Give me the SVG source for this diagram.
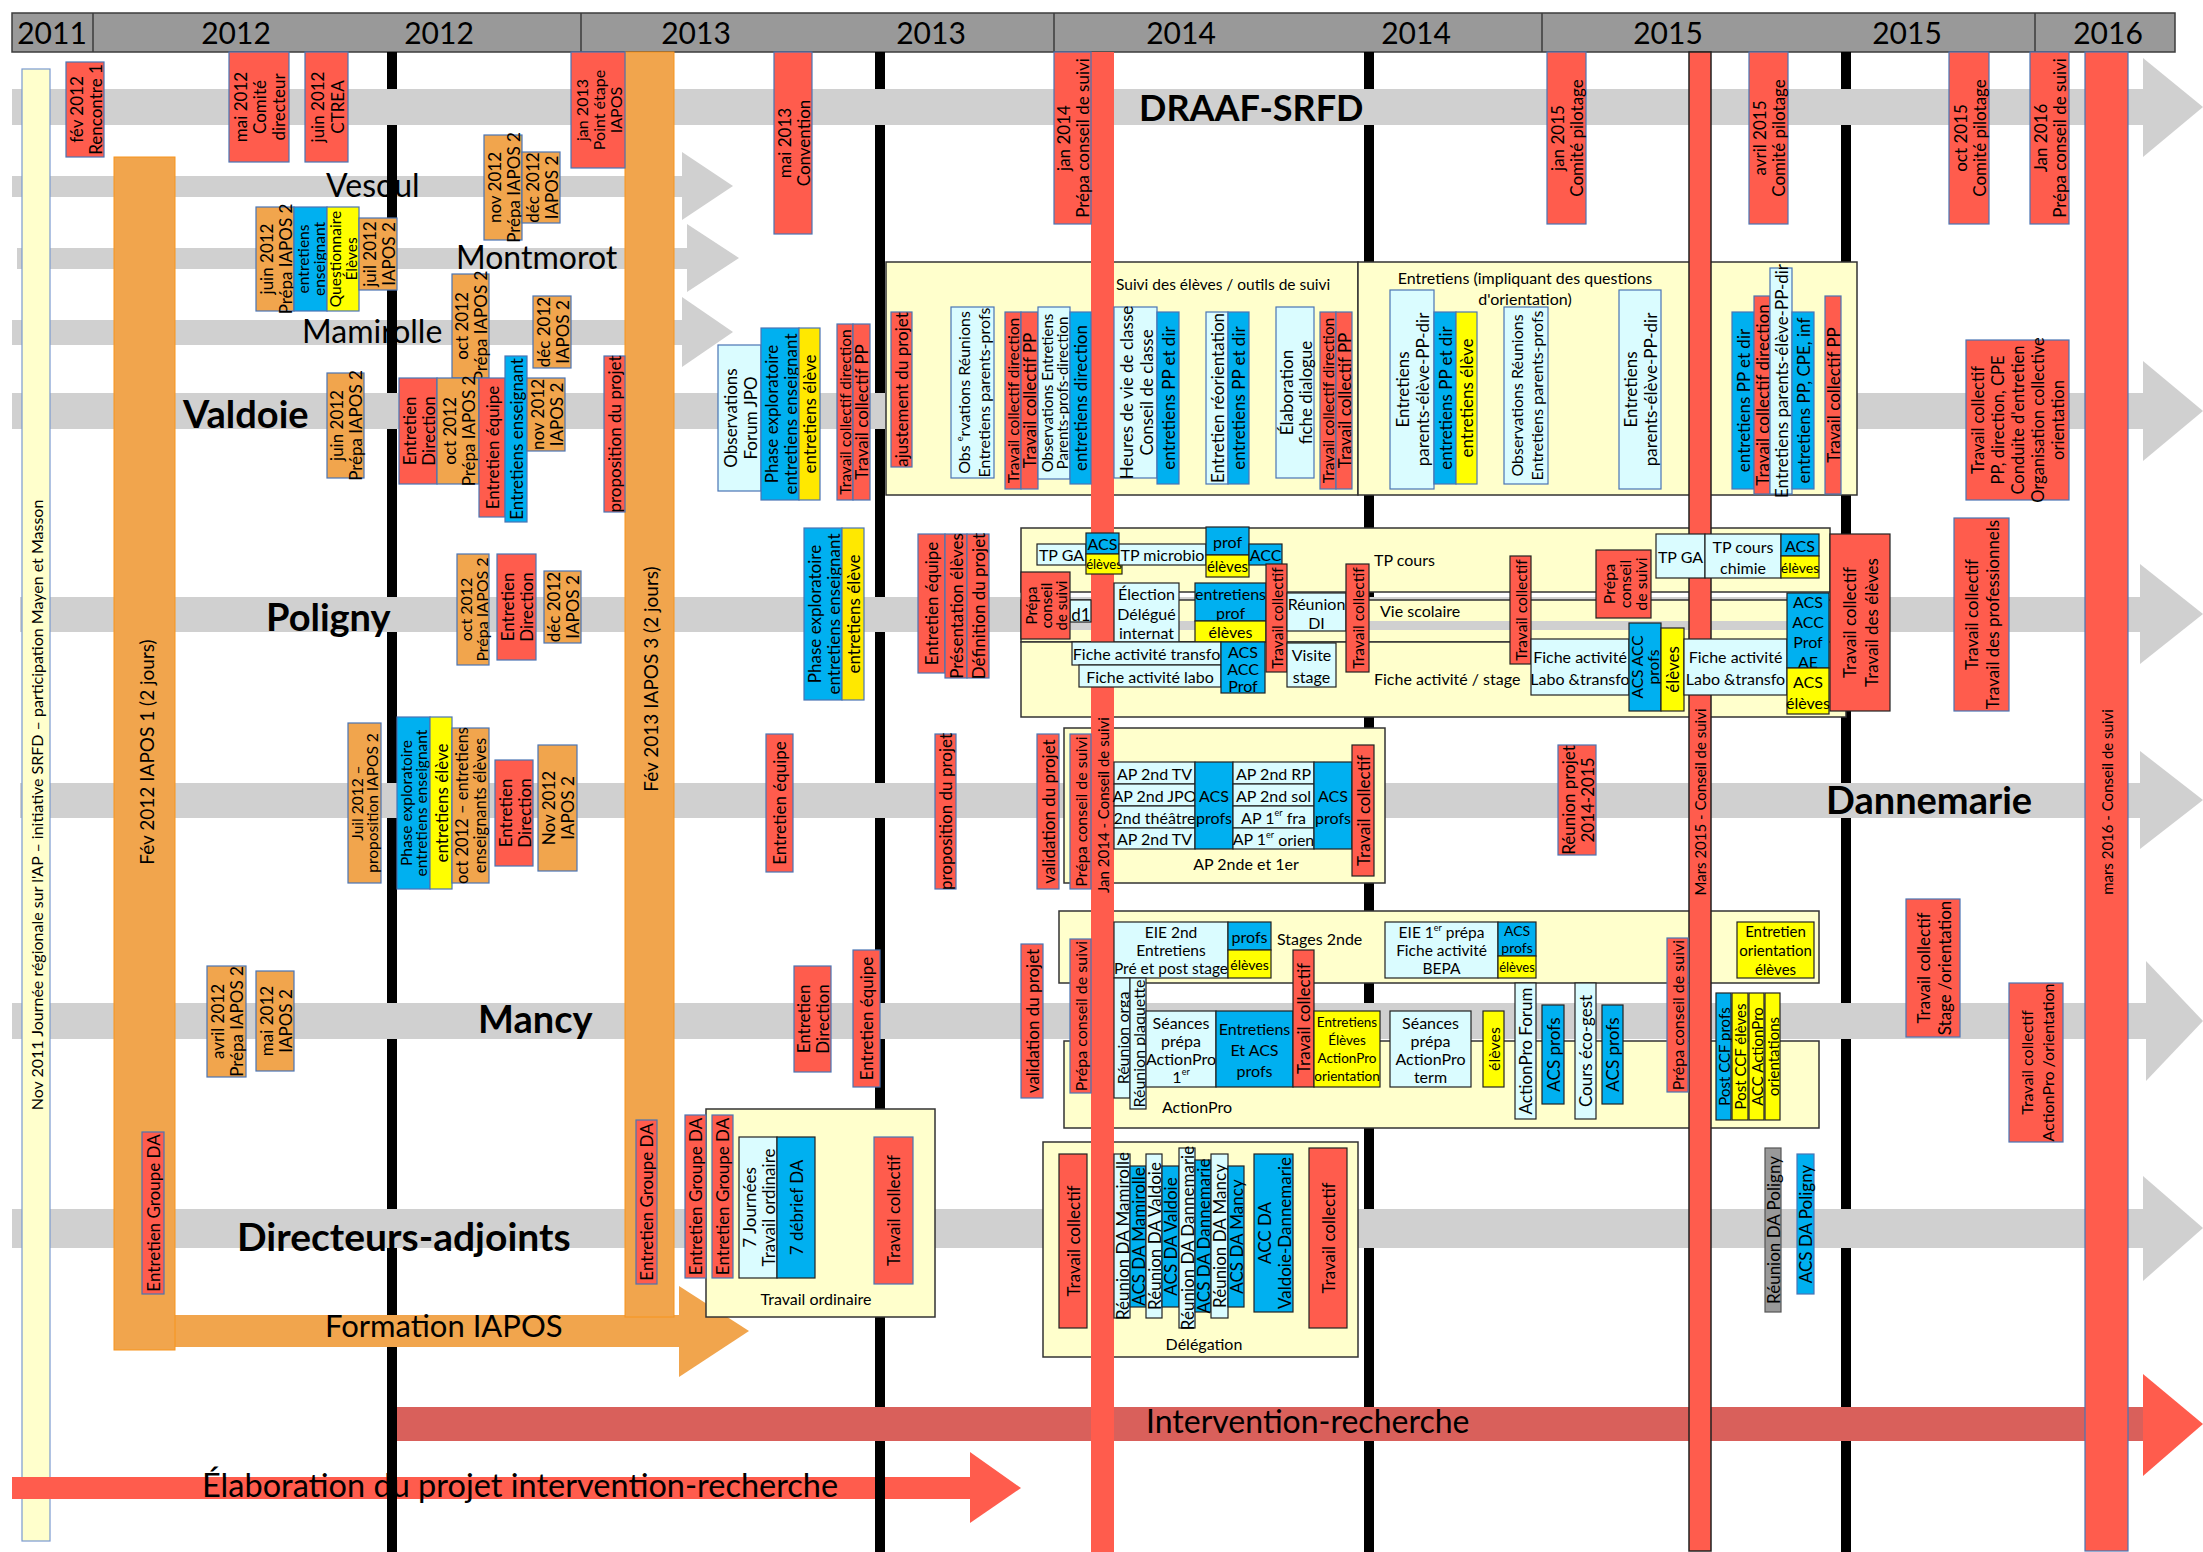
<svg xmlns="http://www.w3.org/2000/svg" width="2203" height="1552" viewBox="0 0 2203 1552">
<defs>
<style>
text{font-family:Lato,"Liberation Sans",sans-serif;fill:#000}
.hd{fill:#999;stroke:#3c3c3c;stroke-width:1.5}
.yr{font-size:30px;text-anchor:middle}
.ln{fill:#d0d0d0}
.ir{fill:#d9605b}
.rd{fill:#ff5c4d}
.ia{fill:#f1a54d;stroke:#f7941d;stroke-width:1}
.r{fill:#ff5c4d;stroke:#4a74b4;stroke-width:1.2}
.o{fill:#f1a54d;stroke:#4a74b4;stroke-width:1.2}
.c{fill:#00b0f0;stroke:#4a74b4;stroke-width:1.2}
.y{fill:#ffff00;stroke:#4a74b4;stroke-width:1.2}
.y2{fill:#ffe800;stroke:#4a74b4;stroke-width:1.2}
.l{fill:#dafcff;stroke:#4a74b4;stroke-width:1.2}
.g{fill:#999;stroke:#555;stroke-width:1.2}
.p{fill:#ffffcc;stroke:#333;stroke-width:1.5}
.dk rect{stroke:#222}
.t{font-size:17px}
.h{font-size:16px}
.t,.t tspan,.h,.h tspan{text-anchor:middle;dominant-baseline:central}
.lb{font-size:16px}
.L{font-size:32px}
.B{font-size:38px;font-weight:bold}
.big{font-size:32px}
.bar{font-size:15px;text-anchor:middle;dominant-baseline:central}
.ib{font-size:19px;text-anchor:middle;dominant-baseline:central}
</style>
</defs>
<rect width="2203" height="1552" fill="#fff"/>

<g id="header">
<rect class="hd" x="12" y="13" width="2163" height="39"/>
<path d="M93 13V52M581 13V52M1054 13V52M1542 13V52M2035 13V52" stroke="#3c3c3c" stroke-width="1.5"/>
<text class="yr" x="52" y="44">2011</text>
<text class="yr" x="236" y="44">2012</text>
<text class="yr" x="439" y="44">2012</text>
<text class="yr" x="696" y="44">2013</text>
<text class="yr" x="931" y="44">2013</text>
<text class="yr" x="1181" y="44">2014</text>
<text class="yr" x="1416" y="44">2014</text>
<text class="yr" x="1668" y="44">2015</text>
<text class="yr" x="1907" y="44">2015</text>
<text class="yr" x="2108" y="44">2016</text>
</g>

<g id="semesters" fill="#000">
<rect x="387" y="52" width="10" height="1500"/>
<rect x="875" y="52" width="10" height="1500"/>
<rect x="1364" y="52" width="10" height="1500"/>
<rect x="1841" y="52" width="10" height="1500"/>
</g>

<g id="lanes">
<rect class="ln" x="12" y="89" width="2131" height="36"/><polygon class="ln" points="2143,58 2203,107 2143,157"/>
<rect class="ln" x="12" y="393" width="2131" height="36"/><polygon class="ln" points="2143,361 2203,411 2143,461"/>
<rect class="ln" x="20" y="597" width="2120" height="35"/><polygon class="ln" points="2140,564 2203,614 2140,664"/>
<rect class="ln" x="20" y="783" width="2120" height="35"/><polygon class="ln" points="2140,751 2203,800 2140,849"/>
<rect class="ln" x="12" y="1003" width="2134" height="36"/><polygon class="ln" points="2146,961 2203,1021 2146,1081"/>
<rect class="ln" x="12" y="1209" width="2131" height="39"/><polygon class="ln" points="2143,1176 2203,1228 2143,1281"/>
<rect fill="#f1a54d" x="137" y="1315" width="542" height="32"/><polygon fill="#f1a54d" points="679,1286 749,1331 679,1377"/>
<rect class="ir" x="397" y="1407" width="1746" height="34"/><polygon class="rd" points="2143,1374 2203,1424 2143,1476"/>
<rect class="ln" x="12" y="176" width="670" height="21"/><polygon class="ln" points="682,152 733,186 682,220"/>
<rect class="ln" x="17" y="248" width="670" height="21"/><polygon class="ln" points="687,224 739,258 687,292"/>
<rect class="ln" x="12" y="320" width="670" height="25"/><polygon class="ln" points="682,297 733,332 682,367"/>
</g>

<g id="nov2011">
<rect x="22" y="69" width="28" height="1472" fill="#ffffcc" stroke="#7a9ad0" stroke-width="1.2"/>
<text class="bar" transform="translate(36 805) rotate(-90)" style="font-size:16px">Nov 2011 Journée régionale sur l'AP – initiative SRFD – participation Mayen et Masson</text>
</g>

<g id="elaboration">
<rect class="rd" x="12" y="1477" width="958" height="22"/><polygon class="rd" points="970,1452 1021,1488 970,1523"/>
</g>

<g id="lane-labels">
<text class="L" x="326" y="197">Vesoul</text>
<text class="L" x="456" y="269">Montmorot</text>
<text class="L" x="302" y="343">Mamirolle</text>
<text class="big" x="202" y="1497" style="font-size:32.5px">Élaboration du projet intervention-recherche</text>
</g>

<g fill="#000">
<rect x="387" y="170" width="10" height="32"/>
<rect x="387" y="244" width="10" height="30"/>
<rect x="387" y="316" width="10" height="33"/>
<rect x="387" y="1474" width="10" height="28"/>
<rect x="875" y="1474" width="10" height="28"/>
</g>

<g id="main-labels">
<text class="B" x="1139" y="121" style="font-size:36px">DRAAF-SRFD</text>
<text class="B" x="183" y="428">Valdoie</text>
<text class="B" x="266" y="631">Poligny</text>
<text class="B" x="1826" y="814">Dannemarie</text>
<text class="B" x="478" y="1033">Mancy</text>
<text class="B" x="237" y="1251" style="font-size:39px">Directeurs-adjoints</text>
<text class="big" x="325" y="1337" style="font-size:31px">Formation IAPOS</text>
<text class="big" x="1146" y="1433">Intervention-recherche</text>
</g>

<g id="containers">
<rect class="p" x="886" y="262" width="472" height="233"/>
<rect class="p" x="1358" y="262" width="499" height="233"/>
<rect class="p" x="1021" y="528" width="809" height="64"/>
<rect class="p" x="1021" y="600" width="825" height="42"/>
<rect class="ln" x="1022" y="621" width="823" height="9"/>
<rect class="p" x="1021" y="642" width="825" height="75"/>
<rect class="p" x="1064" y="728" width="321" height="155"/>
<rect class="p" x="1059" y="911" width="760" height="72"/>
<rect class="p" x="1064" y="1041" width="755" height="87"/>
<rect class="p" x="706" y="1109" width="229" height="208"/>
<rect class="p" x="1043" y="1142" width="315" height="215"/>
</g>

<g id="iapos1"><rect class="ia" x="114" y="157" width="61" height="1193"/><text class="ib" transform="translate(146 752) rotate(-90)">Fév 2012 IAPOS 1 (2 jours)</text></g>
<g id="iapos3"><rect class="ia" x="625" y="52" width="49" height="1265"/><text class="ib" transform="translate(650 679) rotate(-90)">Fév 2013 IAPOS 3 (2 jours)</text></g>

<g id="cs2014"><rect class="rd" x="1091" y="52" width="23" height="1500"/><text class="bar" transform="translate(1102.5 805) rotate(-90)">Jan 2014 - Conseil de suivi</text></g>
<g id="cs2015"><rect class="rd" x="1689" y="52" width="22" height="1499" stroke="#222" stroke-width="1.5"/><text class="bar" transform="translate(1700 802) rotate(-90)">Mars 2015 - Conseil de suivi</text></g>
<g id="cs2016"><rect class="r" x="2085" y="52" width="43" height="1499"/><text class="bar" transform="translate(2106.5 802) rotate(-90)">mars 2016 - Conseil de suivi</text></g>

<!-- DRAAF row -->
<g id="a1"><rect class="r" x="66" y="62" width="38" height="95"/><text class="t" transform="translate(85 109.5) rotate(-90)"><tspan x="0" y="-9.5">fév 2012</tspan><tspan x="0" y="9.5">Rencontre 1</tspan></text></g>
<g id="a2"><rect class="r" x="229" y="52" width="60" height="110"/><text class="t" transform="translate(259 107) rotate(-90)"><tspan x="0" y="-19">mai 2012</tspan><tspan x="0" y="0">Comité</tspan><tspan x="0" y="19">directeur</tspan></text></g>
<g id="a3"><rect class="r" x="305" y="52" width="43" height="110"/><text class="t" transform="translate(326.5 107) rotate(-90)"><tspan x="0" y="-10">juin 2012</tspan><tspan x="0" y="10">CTREA</tspan></text></g>
<g id="a4"><rect class="r" x="571" y="52" width="54" height="116"/><text class="t" transform="translate(598 110) rotate(-90)" style="font-size:16px"><tspan x="0" y="-17">jan 2013</tspan><tspan x="0" y="0">Point étape</tspan><tspan x="0" y="17">IAPOS</tspan></text></g>
<g id="a5"><rect class="r" x="774" y="52" width="38" height="182"/><text class="t" transform="translate(793 143) rotate(-90)"><tspan x="0" y="-9.5">mai 2013</tspan><tspan x="0" y="9.5">Convention</tspan></text></g>
<g id="a6"><rect class="r" x="1054" y="52" width="37" height="172"/><text class="t" transform="translate(1072.5 138) rotate(-90)"><tspan x="0" y="-9.5">jan 2014</tspan><tspan x="0" y="9.5">Prépa conseil de suivi</tspan></text></g>
<g id="a7"><rect class="r" x="1547" y="52" width="39" height="172"/><text class="t" transform="translate(1566.5 138) rotate(-90)"><tspan x="0" y="-9.5">jan 2015</tspan><tspan x="0" y="9.5">Comité pilotage</tspan></text></g>
<g id="a8"><rect class="r" x="1749" y="52" width="39" height="172"/><text class="t" transform="translate(1768.5 138) rotate(-90)"><tspan x="0" y="-9.5">avril 2015</tspan><tspan x="0" y="9.5">Comité pilotage</tspan></text></g>
<g id="a9"><rect class="r" x="1949" y="52" width="40" height="172"/><text class="t" transform="translate(1969 138) rotate(-90)"><tspan x="0" y="-9.5">oct 2015</tspan><tspan x="0" y="9.5">Comité pilotage</tspan></text></g>
<g id="a10"><rect class="r" x="2030" y="52" width="39" height="172"/><text class="t" transform="translate(2049.5 138) rotate(-90)"><tspan x="0" y="-9.5">Jan 2016</tspan><tspan x="0" y="9.5">Prépa conseil de suivi</tspan></text></g>

<!-- Vesoul / Montmorot / Mamirolle -->
<g id="b1"><rect class="o" x="484" y="135" width="38" height="105"/><text class="t" transform="translate(503 187.5) rotate(-90)"><tspan x="0" y="-9.5">nov 2012</tspan><tspan x="0" y="9.5">Prépa IAPOS 2</tspan></text></g>
<g id="b2"><rect class="o" x="522" y="152" width="38" height="71"/><text class="t" transform="translate(541 187.5) rotate(-90)"><tspan x="0" y="-9.5">déc 2012</tspan><tspan x="0" y="9.5">IAPOS 2</tspan></text></g>
<g id="c1"><rect class="o" x="256" y="207" width="38" height="104"/><text class="t" transform="translate(275 259) rotate(-90)"><tspan x="0" y="-9.5">juin 2012</tspan><tspan x="0" y="9.5">Prépa IAPOS 2</tspan></text></g>
<g id="c2"><rect class="c" x="294" y="207" width="33" height="104"/><text class="t" transform="translate(310.5 259) rotate(-90)" style="font-size:15.5px"><tspan x="0" y="-8">entretiens</tspan><tspan x="0" y="8">enseignant</tspan></text></g>
<g id="c3"><rect class="y" x="327" y="207" width="32" height="104"/><text class="t" transform="translate(343 259) rotate(-90)" style="font-size:15.5px"><tspan x="0" y="-8">Questionnaire</tspan><tspan x="0" y="8">Élèves</tspan></text></g>
<g id="c4"><rect class="o" x="359" y="218" width="38" height="72"/><text class="t" transform="translate(378 254) rotate(-90)"><tspan x="0" y="-9.5">juil 2012</tspan><tspan x="0" y="9.5">IAPOS 2</tspan></text></g>
<g id="d1"><rect class="o" x="452" y="274" width="37" height="104"/><text class="t" transform="translate(470.5 326) rotate(-90)"><tspan x="0" y="-9.5">oct 2012</tspan><tspan x="0" y="9.5">Prépa IAPOS 2</tspan></text></g>
<g id="d2"><rect class="o" x="533" y="296" width="38" height="72"/><text class="t" transform="translate(552 332) rotate(-90)"><tspan x="0" y="-9.5">déc 2012</tspan><tspan x="0" y="9.5">IAPOS 2</tspan></text></g>

<!-- Valdoie -->
<g id="e1"><rect class="o" x="327" y="373" width="37" height="105"/><text class="t" transform="translate(345.5 425.5) rotate(-90)"><tspan x="0" y="-9.5">juin 2012</tspan><tspan x="0" y="9.5">Prépa IAPOS 2</tspan></text></g>
<g id="e2"><rect class="r" x="399" y="378" width="38" height="106"/><text class="t" transform="translate(418 431) rotate(-90)"><tspan x="0" y="-9.5">Entretien</tspan><tspan x="0" y="9.5">Direction</tspan></text></g>
<g id="e3"><rect class="o" x="437" y="378" width="42" height="106"/><text class="t" transform="translate(458 431) rotate(-90)"><tspan x="0" y="-9.5">oct 2012</tspan><tspan x="0" y="9.5">Prépa IAPOS 2</tspan></text></g>
<g id="e4"><rect class="r" x="479" y="378" width="26" height="139"/><text class="t" transform="translate(492 447.5) rotate(-90)">Entretien équipe</text></g>
<g id="e5"><rect class="c" x="505" y="356" width="22" height="166"/><text class="t" transform="translate(516 439) rotate(-90)">Entretiens enseignant</text></g>
<g id="e6"><rect class="o" x="527" y="378" width="38" height="73"/><text class="t" transform="translate(546 414.5) rotate(-90)"><tspan x="0" y="-9.5">nov 2012</tspan><tspan x="0" y="9.5">IAPOS 2</tspan></text></g>
<g id="e7"><rect class="r" x="604" y="356" width="21" height="156"/><text class="t" transform="translate(614.5 434) rotate(-90)">proposition du projet</text></g>
<g id="e8"><rect class="l" x="718" y="345" width="43" height="146"/><text class="t" transform="translate(739.5 418) rotate(-90)"><tspan x="0" y="-10">Observations</tspan><tspan x="0" y="10">Forum JPO</tspan></text></g>
<g id="e9"><rect class="c" x="761" y="328" width="38" height="172"/><text class="t" transform="translate(780 414) rotate(-90)"><tspan x="0" y="-9.5">Phase exploratoire</tspan><tspan x="0" y="9.5">entretiens enseignant</tspan></text></g>
<g id="e10"><rect class="y2" x="799" y="328" width="21" height="172"/><text class="t" transform="translate(809.5 414) rotate(-90)">entretiens élève</text></g>
<g id="e11"><rect class="r" x="837" y="324" width="16" height="176"/><text class="t" transform="translate(845 412) rotate(-90)" style="font-size:15.5px">Travail collectif direction</text></g>
<g id="e12"><rect class="r" x="853" y="324" width="17" height="176"/><text class="t" transform="translate(861.5 412) rotate(-90)">Travail collectif PP</text></g>
<g id="e13"><rect class="r" x="891" y="312" width="21" height="155"/><text class="t" transform="translate(901.5 389.5) rotate(-90)">ajustement du projet</text></g>
<g id="e14"><rect class="l" x="951" y="307" width="43" height="171"/><text class="t" transform="translate(972.5 392.5) rotate(-90)" style="font-size:16px"><tspan x="0" y="-10">Obs <tspan font-size="9" dy="-4">e</tspan><tspan dy="4">rvations Réunions</tspan></tspan><tspan x="0" y="10">Entretiens parents-profs</tspan></text></g>
<g id="e15"><rect class="r" x="1005" y="312" width="16" height="177"/><text class="t" transform="translate(1013 400.5) rotate(-90)" style="font-size:15.5px">Travail collectif direction</text></g>
<g id="e16"><rect class="r" x="1021" y="312" width="17" height="177"/><text class="t" transform="translate(1029.5 400.5) rotate(-90)">Travail collectif PP</text></g>
<g id="e17"><rect class="l" x="1038" y="307" width="32" height="172"/><text class="t" transform="translate(1054 393) rotate(-90)" style="font-size:15px"><tspan x="0" y="-7.5">Observations Entretiens</tspan><tspan x="0" y="7.5">Parents-profs-direction</tspan></text></g>
<g id="e18"><rect class="c" x="1070" y="312" width="21" height="172"/><text class="t" transform="translate(1080.5 398) rotate(-90)">entretiens direction</text></g>
<g id="e19"><rect class="l" x="1114" y="307" width="43" height="171"/><text class="t" transform="translate(1135.5 392.5) rotate(-90)"><tspan x="0" y="-10">Heures de vie de classe</tspan><tspan x="0" y="10">Conseil de classe</tspan></text></g>
<g id="e20"><rect class="c" x="1157" y="312" width="22" height="172"/><text class="t" transform="translate(1168 398) rotate(-90)">entretiens PP et dir</text></g>
<g id="e21"><rect class="l" x="1206" y="312" width="22" height="172"/><text class="t" transform="translate(1217 398) rotate(-90)">Entretien réorientation</text></g>
<g id="e22"><rect class="c" x="1228" y="312" width="21" height="172"/><text class="t" transform="translate(1238.5 398) rotate(-90)">entretiens PP et dir</text></g>
<g id="e23"><rect class="l" x="1276" y="307" width="38" height="171"/><text class="t" transform="translate(1295 392.5) rotate(-90)"><tspan x="0" y="-9.5">Élaboration</tspan><tspan x="0" y="9.5">fiche dialogue</tspan></text></g>
<g id="e24"><rect class="r" x="1320" y="312" width="16" height="177"/><text class="t" transform="translate(1328 400.5) rotate(-90)" style="font-size:15.5px">Travail collectif direction</text></g>
<g id="e25"><rect class="r" x="1336" y="312" width="16" height="177"/><text class="t" transform="translate(1344 400.5) rotate(-90)">Travail collectif PP</text></g>
<g id="e26"><rect class="l" x="1390" y="290" width="44" height="199"/><text class="t" transform="translate(1412 389.5) rotate(-90)"><tspan x="0" y="-10">Entretiens</tspan><tspan x="0" y="10">parents-élève-PP-dir</tspan></text></g>
<g id="e27"><rect class="c" x="1434" y="312" width="22" height="172"/><text class="t" transform="translate(1445 398) rotate(-90)">entretiens PP et dir</text></g>
<g id="e28"><rect class="y" x="1456" y="312" width="21" height="172"/><text class="t" transform="translate(1466.5 398) rotate(-90)">entretiens élève</text></g>
<g id="e29"><rect class="l" x="1504" y="307" width="44" height="177"/><text class="t" transform="translate(1526 395.5) rotate(-90)" style="font-size:16px"><tspan x="0" y="-10">Observations Réunions</tspan><tspan x="0" y="10">Entretiens parents-profs</tspan></text></g>
<g id="e30"><rect class="l" x="1619" y="290" width="42" height="199"/><text class="t" transform="translate(1640 389.5) rotate(-90)"><tspan x="0" y="-10">Entretiens</tspan><tspan x="0" y="10">parents-élève-PP-dir</tspan></text></g>
<g id="e31"><rect class="c" x="1732" y="312" width="22" height="177"/><text class="t" transform="translate(1743 400.5) rotate(-90)">entretiens PP et dir</text></g>
<g id="e32"><rect class="r" x="1754" y="296" width="16" height="198"/><text class="t" transform="translate(1762 395) rotate(-90)">Travail collectif direction</text></g>
<g id="e33"><rect class="l" x="1770" y="268" width="22" height="226"/><text class="t" transform="translate(1781 381) rotate(-90)">Entretiens parents-élève-PP-dir</text></g>
<g id="e34"><rect class="c" x="1792" y="312" width="22" height="177"/><text class="t" transform="translate(1803 400.5) rotate(-90)">entretiens PP, CPE, inf</text></g>
<g id="e35"><rect class="r" x="1825" y="296" width="16" height="198"/><text class="t" transform="translate(1833 395) rotate(-90)">Travail collectif PP</text></g>
<g id="e36"><rect class="r" x="1966" y="340" width="103" height="160"/><text class="t" transform="translate(2017.5 420) rotate(-90)" style="font-size:16.5px"><tspan x="0" y="-40">Travail collectif</tspan><tspan x="0" y="-20">PP, direction, CPE</tspan><tspan x="0" y="0">Conduite d'entretien</tspan><tspan x="0" y="20">Organisation collective</tspan><tspan x="0" y="40">orientation</tspan></text></g>

<!-- Poligny -->
<g id="f1"><rect class="o" x="457" y="554" width="32" height="111"/><text class="t" transform="translate(473 609.5) rotate(-90)" style="font-size:16px"><tspan x="0" y="-8">oct 2012</tspan><tspan x="0" y="8">Prépa IAPOS 2</tspan></text></g>
<g id="f2"><rect class="r" x="497" y="554" width="39" height="106"/><text class="t" transform="translate(516.5 607) rotate(-90)"><tspan x="0" y="-9.5">Entretien</tspan><tspan x="0" y="9.5">Direction</tspan></text></g>
<g id="f3"><rect class="o" x="544" y="571" width="37" height="72"/><text class="t" transform="translate(562.5 607) rotate(-90)"><tspan x="0" y="-9.5">déc 2012</tspan><tspan x="0" y="9.5">IAPOS 2</tspan></text></g>
<g id="f4"><rect class="c" x="804" y="528" width="38" height="172"/><text class="t" transform="translate(823 614) rotate(-90)"><tspan x="0" y="-9.5">Phase exploratoire</tspan><tspan x="0" y="9.5">entretiens enseignant</tspan></text></g>
<g id="f5"><rect class="y2" x="842" y="528" width="22" height="172"/><text class="t" transform="translate(853 614) rotate(-90)">entretiens élève</text></g>
<g id="f6"><rect class="r" x="918" y="534" width="27" height="139"/><text class="t" transform="translate(931.5 603.5) rotate(-90)">Entretien équipe</text></g>
<g id="f7"><rect class="r" x="945" y="534" width="22" height="144"/><text class="t" transform="translate(956 606) rotate(-90)">Présentation élèves</text></g>
<g id="f8"><rect class="r" x="967" y="534" width="22" height="144"/><text class="t" transform="translate(978 606) rotate(-90)">Définition du projet</text></g>

<g class="dk">
<g id="g1"><rect class="l" x="1037" y="544" width="49" height="21"/><text class="h" x="1061.5" y="554.5">TP GA</text></g>
<g id="g2"><rect class="c" x="1086" y="533" width="33" height="21"/><text class="h" x="1102.5" y="543.5">ACS</text></g>
<g id="g3"><rect class="y" x="1086" y="554" width="36" height="20"/><text class="h" x="1104" y="564" style="font-size:13px">élèves</text></g>
<g id="g4"><rect class="l" x="1119" y="544" width="87" height="21"/><text class="h" x="1162.5" y="554.5">TP microbio</text></g>
<g id="g5"><rect class="c" x="1206" y="527" width="43" height="28"/><text class="h" x="1227.5" y="541">prof</text></g>
<g id="g6"><rect class="y" x="1206" y="555" width="43" height="22"/><text class="h" x="1227.5" y="566" style="font-size:15px">élèves</text></g>
<g id="g7"><rect class="c" x="1249" y="544" width="33" height="21"/><text class="h" x="1265.5" y="554.5">ACC</text></g>
<g id="g8b"><rect class="l" x="1070" y="600" width="21" height="22"/><text class="h" x="1081" y="614" style="font-size:17px">d1</text></g>
<g id="g8"><rect class="r" x="1021" y="572" width="49" height="67"/><text class="t" transform="translate(1045.5 605.5) rotate(-90)" style="font-size:15px"><tspan x="0" y="-15">Prépa</tspan><tspan x="0" y="0">conseil</tspan><tspan x="0" y="15">de suivi</tspan></text></g>
<g id="g9"><rect class="l" x="1114" y="583" width="65" height="59"/><text class="h"><tspan x="1146.5" y="593">Élection</tspan><tspan x="1146.5" y="612.5">Délégué</tspan><tspan x="1146.5" y="632">internat</tspan></text></g>
<g id="g10"><rect class="c" x="1195" y="583" width="71" height="38"/><text class="h"><tspan x="1230.5" y="592.5">entretiens</tspan><tspan x="1230.5" y="611.5">prof</tspan></text></g>
<g id="g11"><rect class="y" x="1195" y="621" width="71" height="21"/><text class="h" x="1230.5" y="631.5">élèves</text></g>
<g id="g12"><rect class="r" x="1266" y="564" width="21" height="108"/><text class="t" transform="translate(1276.5 618) rotate(-90)" style="font-size:15.5px">Travail collectif</text></g>
<g id="g13"><rect class="l" x="1287" y="593" width="59" height="38"/><text class="h"><tspan x="1316.5" y="602.5">Réunion</tspan><tspan x="1316.5" y="621.5">DI</tspan></text></g>
<g id="g14"><rect class="r" x="1346" y="564" width="23" height="108"/><text class="t" transform="translate(1357.5 618) rotate(-90)" style="font-size:15.5px">Travail collectif</text></g>
<g id="g15"><rect class="l" x="1072" y="642" width="149" height="23"/><text class="h" x="1146.5" y="653.5">Fiche activité transfo</text></g>
<g id="g16"><rect class="l" x="1079" y="665" width="142" height="22"/><text class="h" x="1150" y="676">Fiche activité labo</text></g>
<g id="g17"><rect class="c" x="1221" y="642" width="44" height="51"/><text class="h"><tspan x="1243" y="650.5">ACS</tspan><tspan x="1243" y="667.5">ACC</tspan><tspan x="1243" y="684.5">Prof</tspan></text></g>
<g id="g18"><rect class="l" x="1287" y="643" width="49" height="44"/><text class="h"><tspan x="1311.5" y="654">Visite</tspan><tspan x="1311.5" y="676">stage</tspan></text></g>
<g id="g19"><rect class="r" x="1510" y="556" width="21" height="108"/><text class="t" transform="translate(1520.5 610) rotate(-90)" style="font-size:15.5px">Travail collectif</text></g>
<g id="g20"><rect class="r" x="1596" y="550" width="55" height="68"/><text class="t" transform="translate(1623.5 584) rotate(-90)" style="font-size:16px"><tspan x="0" y="-16">Prépa</tspan><tspan x="0" y="0">conseil</tspan><tspan x="0" y="16">de suivi</tspan></text></g>
<g id="g21"><rect class="l" x="1531" y="639" width="98" height="56"/><text class="h"><tspan x="1580" y="656">Fiche activité</tspan><tspan x="1580" y="678">Labo &amp;transfo</tspan></text></g>
<g id="g22"><rect class="c" x="1629" y="623" width="32" height="88"/><text class="t" transform="translate(1645 667) rotate(-90)" style="font-size:15.5px"><tspan x="0" y="-8">ACS ACC</tspan><tspan x="0" y="8">profs</tspan></text></g>
<g id="g23"><rect class="y" x="1661" y="628" width="23" height="83"/><text class="t" transform="translate(1672.5 669.5) rotate(-90)">élèves</text></g>
<g id="g24"><rect class="l" x="1684" y="639" width="103" height="56"/><text class="h"><tspan x="1735.5" y="656">Fiche activité</tspan><tspan x="1735.5" y="678">Labo &amp;transfo</tspan></text></g>
<g id="g25"><rect class="c" x="1787" y="593" width="42" height="75"/><text class="h"><tspan x="1808" y="601">ACS</tspan><tspan x="1808" y="621">ACC</tspan><tspan x="1808" y="641">Prof</tspan><tspan x="1808" y="661">AE</tspan></text></g>
<g id="g26"><rect class="y" x="1787" y="668" width="42" height="46"/><text class="h"><tspan x="1808" y="681">ACS</tspan><tspan x="1808" y="702">élèves</tspan></text></g>
<g id="g27"><rect class="l" x="1656" y="534" width="49" height="44"/><text class="h" x="1680.5" y="556">TP GA</text></g>
<g id="g28"><rect class="l" x="1705" y="534" width="76" height="44"/><text class="h"><tspan x="1743" y="546">TP cours</tspan><tspan x="1743" y="567">chimie</tspan></text></g>
<g id="g29"><rect class="c" x="1781" y="534" width="38" height="22"/><text class="h" x="1800" y="545">ACS</text></g>
<g id="g30"><rect class="y" x="1781" y="556" width="38" height="22"/><text class="h" x="1800" y="567" style="font-size:14px">élèves</text></g>
<g id="g31"><rect class="r" x="1830" y="534" width="60" height="177"/><text class="t" transform="translate(1860 622.5) rotate(-90)"><tspan x="0" y="-11">Travail collectif</tspan><tspan x="0" y="11">Travail des élèves</tspan></text></g>
</g>
<g id="g32"><rect class="r" x="1954" y="518" width="55" height="193"/><text class="t" transform="translate(1981.5 614.5) rotate(-90)"><tspan x="0" y="-10.5">Travail collectif</tspan><tspan x="0" y="10.5">Travail des professionnels</tspan></text></g>

<!-- Dannemarie -->
<g id="h1"><rect class="o" x="348" y="723" width="33" height="160"/><text class="t" transform="translate(364.5 803) rotate(-90)" style="font-size:15.5px"><tspan x="0" y="-7.5">Juil 2012 –</tspan><tspan x="0" y="7.5">proposition IAPOS 2</tspan></text></g>
<g id="h2"><rect class="c" x="397" y="717" width="33" height="172"/><text class="t" transform="translate(413.5 803) rotate(-90)" style="font-size:15.5px"><tspan x="0" y="-7.5">Phase exploratoire</tspan><tspan x="0" y="7.5">entretiens enseignant</tspan></text></g>
<g id="h3"><rect class="y" x="430" y="717" width="22" height="172"/><text class="t" transform="translate(441 803) rotate(-90)">entretiens élève</text></g>
<g id="h4"><rect class="o" x="452" y="728" width="37" height="155"/><text class="t" transform="translate(470.5 805.5) rotate(-90)" style="font-size:16.5px"><tspan x="0" y="-9">oct 2012 – entretiens</tspan><tspan x="0" y="9">enseignants élèves</tspan></text></g>
<g id="h5"><rect class="r" x="495" y="760" width="38" height="106"/><text class="t" transform="translate(514 813) rotate(-90)"><tspan x="0" y="-9.5">Entretien</tspan><tspan x="0" y="9.5">Direction</tspan></text></g>
<g id="h6"><rect class="o" x="538" y="745" width="39" height="126"/><text class="t" transform="translate(557.5 808) rotate(-90)"><tspan x="0" y="-9.5">Nov 2012</tspan><tspan x="0" y="9.5">IAPOS 2</tspan></text></g>
<g id="h7"><rect class="r" x="766" y="734" width="27" height="138"/><text class="t" transform="translate(779.5 803) rotate(-90)">Entretien équipe</text></g>
<g id="h8"><rect class="r" x="935" y="734" width="21" height="155"/><text class="t" transform="translate(945.5 811.5) rotate(-90)">proposition du projet</text></g>
<g id="h9"><rect class="r" x="1037" y="734" width="22" height="155"/><text class="t" transform="translate(1048 811.5) rotate(-90)">validation du projet</text></g>
<g id="h10"><rect class="r" x="1070" y="734" width="21" height="155"/><text class="t" transform="translate(1080.5 811.5) rotate(-90)" style="font-size:16px">Prépa conseil de suivi</text></g>
<g class="dk">
<g id="h11"><rect class="l" x="1114" y="762" width="81" height="22"/><text class="h" x="1154.5" y="773">AP 2nd TV</text></g>
<g id="h12"><rect class="l" x="1114" y="784" width="81" height="22"/><text class="h" x="1154.5" y="795">AP 2nd JPO</text></g>
<g id="h13"><rect class="l" x="1114" y="806" width="81" height="22"/><text class="h" x="1154.5" y="817">2nd théâtre</text></g>
<g id="h14"><rect class="l" x="1114" y="828" width="81" height="21"/><text class="h" x="1154.5" y="838.5">AP 2nd TV</text></g>
<g id="h15"><rect class="c" x="1195" y="762" width="38" height="87"/><text class="h"><tspan x="1214" y="795">ACS</tspan><tspan x="1214" y="817">profs</tspan></text></g>
<g id="h16"><rect class="l" x="1233" y="762" width="81" height="22"/><text class="h" x="1273.5" y="773">AP 2nd RP</text></g>
<g id="h17"><rect class="l" x="1233" y="784" width="81" height="22"/><text class="h" x="1273.5" y="795">AP 2nd sol</text></g>
<g id="h18"><rect class="l" x="1233" y="806" width="81" height="22"/><text class="h" x="1273.5" y="817">AP 1<tspan font-size="9" dy="-5">er</tspan><tspan dy="5"> fra</tspan></text></g>
<g id="h19"><rect class="l" x="1233" y="828" width="81" height="21"/><text class="h" x="1273.5" y="838.5">AP 1<tspan font-size="9" dy="-5">er</tspan><tspan dy="5"> orien</tspan></text></g>
<g id="h20"><rect class="c" x="1314" y="762" width="38" height="87"/><text class="h"><tspan x="1333" y="795">ACS</tspan><tspan x="1333" y="817">profs</tspan></text></g>
<g id="h21"><rect class="r" x="1352" y="745" width="22" height="131"/><text class="t" transform="translate(1363 810.5) rotate(-90)">Travail collectif</text></g>
</g>
<g id="h22"><rect class="r" x="1558" y="745" width="38" height="110"/><text class="t" transform="translate(1577 800) rotate(-90)"><tspan x="0" y="-9.5">Réunion projet</tspan><tspan x="0" y="9.5">2014-2015</tspan></text></g>

<!-- Mancy -->
<g id="i1"><rect class="o" x="207" y="966" width="39" height="111"/><text class="t" transform="translate(226.5 1021.5) rotate(-90)"><tspan x="0" y="-9.5">avril 2012</tspan><tspan x="0" y="9.5">Prépa IAPOS 2</tspan></text></g>
<g id="i2"><rect class="o" x="256" y="971" width="38" height="100"/><text class="t" transform="translate(275 1021) rotate(-90)"><tspan x="0" y="-9.5">mai 2012</tspan><tspan x="0" y="9.5">IAPOS 2</tspan></text></g>
<g id="i3"><rect class="r" x="794" y="966" width="37" height="106"/><text class="t" transform="translate(812.5 1019) rotate(-90)"><tspan x="0" y="-9.5">Entretien</tspan><tspan x="0" y="9.5">Direction</tspan></text></g>
<g id="i4"><rect class="r" x="853" y="950" width="27" height="137"/><text class="t" transform="translate(866.5 1018.5) rotate(-90)">Entretien équipe</text></g>
<g id="i5"><rect class="r" x="1021" y="944" width="22" height="154"/><text class="t" transform="translate(1032 1021) rotate(-90)">validation du projet</text></g>
<g id="i6"><rect class="r" x="1070" y="939" width="21" height="154"/><text class="t" transform="translate(1080.5 1016) rotate(-90)" style="font-size:16px">Prépa conseil de suivi</text></g>
<g class="dk">
<g id="i7"><rect class="l" x="1114" y="922" width="114" height="56"/><text class="h" style="font-size:15.5px"><tspan x="1171" y="932">EIE 2nd</tspan><tspan x="1171" y="950">Entretiens</tspan><tspan x="1171" y="968">Pré et post stage</tspan></text></g>
<g id="i8"><rect class="c" x="1228" y="922" width="43" height="28"/><text class="h" x="1249.5" y="936">profs</text></g>
<g id="i9"><rect class="y" x="1228" y="950" width="43" height="28"/><text class="h" x="1249.5" y="964" style="font-size:14px">élèves</text></g>
<g id="i10"><rect class="l" x="1385" y="922" width="113" height="56"/><text class="h" style="font-size:15.5px"><tspan x="1441.5" y="932">EIE 1<tspan font-size="9" dy="-5">er</tspan><tspan dy="5"> prépa</tspan></tspan><tspan x="1441.5" y="950">Fiche activité</tspan><tspan x="1441.5" y="968">BEPA</tspan></text></g>
<g id="i11"><rect class="c" x="1498" y="922" width="38" height="34"/><text class="h" style="font-size:14px"><tspan x="1517" y="930">ACS</tspan><tspan x="1517" y="947">profs</tspan></text></g>
<g id="i12"><rect class="y" x="1498" y="956" width="38" height="22"/><text class="h" x="1517" y="967" style="font-size:13px">élèves</text></g>
<g id="i13"><rect class="y" x="1737" y="922" width="77" height="56"/><text class="h" style="font-size:15px"><tspan x="1775.5" y="931">Entretien</tspan><tspan x="1775.5" y="950">orientation</tspan><tspan x="1775.5" y="969">élèves</tspan></text></g>
<g id="i15"><rect class="l" x="1114" y="978" width="16" height="120"/><text class="t" transform="translate(1122 1038) rotate(-90)" style="font-size:16px">Réunion orga</text></g>
<g id="i16"><rect class="l" x="1130" y="978" width="16" height="131"/><text class="t" transform="translate(1138 1043.5) rotate(-90)" style="font-size:16px">Réunion plaquette</text></g>
<g id="i17"><rect class="l" x="1146" y="1011" width="70" height="76"/><text class="h"><tspan x="1181" y="1022">Séances</tspan><tspan x="1181" y="1040">prépa</tspan><tspan x="1181" y="1058">ActionPro</tspan><tspan x="1181" y="1076">1<tspan font-size="9" dy="-5">er</tspan></tspan></text></g>
<g id="i18"><rect class="c" x="1216" y="1011" width="77" height="76"/><text class="h"><tspan x="1254.5" y="1028">Entretiens</tspan><tspan x="1254.5" y="1049">Et ACS</tspan><tspan x="1254.5" y="1070">profs</tspan></text></g>
<g id="i19"><rect class="r" x="1293" y="950" width="21" height="137"/><text class="t" transform="translate(1303.5 1018.5) rotate(-90)">Travail collectif</text></g>
<g id="i20"><rect class="y" x="1314" y="1011" width="66" height="76"/><text class="h" style="font-size:13.5px"><tspan x="1347" y="1022">Entretiens</tspan><tspan x="1347" y="1040">Élèves</tspan><tspan x="1347" y="1058">ActionPro</tspan><tspan x="1347" y="1076">orientation</tspan></text></g>
<g id="i21"><rect class="l" x="1390" y="1011" width="81" height="76"/><text class="h"><tspan x="1430.5" y="1022">Séances</tspan><tspan x="1430.5" y="1040">prépa</tspan><tspan x="1430.5" y="1058">ActionPro</tspan><tspan x="1430.5" y="1076">term</tspan></text></g>
<g id="i22"><rect class="y" x="1483" y="1011" width="21" height="76"/><text class="t" transform="translate(1493.5 1049) rotate(-90)" style="font-size:16px">élèves</text></g>
<g id="i23"><rect class="l" x="1515" y="983" width="21" height="136"/><text class="t" transform="translate(1525.5 1051) rotate(-90)">ActionPro Forum</text></g>
<g id="i24"><rect class="c" x="1542" y="1005" width="22" height="99"/><text class="t" transform="translate(1553 1054.5) rotate(-90)">ACS profs</text></g>
<g id="i25"><rect class="l" x="1575" y="983" width="21" height="136"/><text class="t" transform="translate(1585.5 1051) rotate(-90)">Cours éco-gest</text></g>
<g id="i26"><rect class="c" x="1602" y="1005" width="21" height="99"/><text class="t" transform="translate(1612.5 1054.5) rotate(-90)">ACS profs</text></g>
<g id="i27"><rect class="c" x="1716" y="993" width="15" height="127"/><text class="t" transform="translate(1723.5 1056.5) rotate(-90)" style="font-size:15px">Post CCF profs</text></g>
<g id="i28"><rect class="y" x="1732" y="993" width="16" height="127"/><text class="t" transform="translate(1740 1056.5) rotate(-90)" style="font-size:15px">Post CCF élèves</text></g>
<g id="i29"><rect class="y" x="1749" y="993" width="15" height="127"/><text class="t" transform="translate(1756.5 1056.5) rotate(-90)" style="font-size:15px">ACC ActionPro</text></g>
<g id="i30"><rect class="y" x="1765" y="993" width="15" height="127"/><text class="t" transform="translate(1772.5 1056.5) rotate(-90)" style="font-size:15px">orientations</text></g>
</g>
<g id="i14"><rect class="r" x="1667" y="938" width="21" height="154"/><text class="t" transform="translate(1677.5 1015) rotate(-90)" style="font-size:16px">Prépa conseil de suivi</text></g>
<g id="i31"><rect class="r" x="1906" y="899" width="54" height="138"/><text class="t" transform="translate(1933 968) rotate(-90)"><tspan x="0" y="-10.5">Travail collectif</tspan><tspan x="0" y="10.5">Stage /orientation</tspan></text></g>
<g id="i32"><rect class="r" x="2009" y="983" width="54" height="159"/><text class="t" transform="translate(2036 1062.5) rotate(-90)" style="font-size:16px"><tspan x="0" y="-10.5">Travail collectif</tspan><tspan x="0" y="10.5">ActionPro /orientation</tspan></text></g>

<!-- Directeurs-adjoints -->
<g id="j1"><rect class="r" x="142" y="1132" width="22" height="162"/><text class="t" transform="translate(153 1213) rotate(-90)">Entretien Groupe DA</text></g>
<g id="j2"><rect class="r" x="636" y="1120" width="21" height="164"/><text class="t" transform="translate(646.5 1202) rotate(-90)">Entretien Groupe DA</text></g>
<g id="j3"><rect class="r" x="685" y="1115" width="21" height="163"/><text class="t" transform="translate(695.5 1196.5) rotate(-90)">Entretien Groupe DA</text></g>
<g id="j4"><rect class="r" x="712" y="1115" width="21" height="163"/><text class="t" transform="translate(722.5 1196.5) rotate(-90)">Entretien Groupe DA</text></g>
<g class="dk">
<g id="j5"><rect class="l" x="739" y="1137" width="38" height="141"/><text class="t" transform="translate(758 1207.5) rotate(-90)"><tspan x="0" y="-9.5">7 Journées</tspan><tspan x="0" y="9.5">Travail ordinaire</tspan></text></g>
<g id="j6"><rect class="c" x="777" y="1137" width="38" height="141"/><text class="t" transform="translate(796 1207.5) rotate(-90)">7 débrief DA</text></g>
</g>
<g id="j7"><rect class="r" x="874" y="1137" width="39" height="147"/><text class="t" transform="translate(893.5 1210.5) rotate(-90)">Travail collectif</text></g>
<g class="dk">
<g id="k1"><rect class="r" x="1059" y="1154" width="28" height="174"/><text class="t" transform="translate(1073 1241) rotate(-90)">Travail collectif</text></g>
<g id="k2"><rect class="l" x="1114" y="1154" width="16" height="164"/><text class="t" transform="translate(1122 1236) rotate(-90)">Réunion DA Mamirolle</text></g>
<g id="k3"><rect class="c" x="1130" y="1166" width="16" height="141"/><text class="t" transform="translate(1138 1236.5) rotate(-90)">ACS DA Mamirolle</text></g>
<g id="k4"><rect class="l" x="1146" y="1154" width="16" height="164"/><text class="t" transform="translate(1154 1236) rotate(-90)">Réunion DA Valdoie</text></g>
<g id="k5"><rect class="c" x="1162" y="1166" width="17" height="141"/><text class="t" transform="translate(1170.5 1236.5) rotate(-90)">ACS DA Valdoie</text></g>
<g id="k6"><rect class="l" x="1179" y="1148" width="16" height="180"/><text class="t" transform="translate(1187 1238) rotate(-90)">Réunion DA Dannemarie</text></g>
<g id="k7"><rect class="c" x="1195" y="1160" width="16" height="152"/><text class="t" transform="translate(1203 1236) rotate(-90)">ACS DA Dannemarie</text></g>
<g id="k8"><rect class="l" x="1211" y="1154" width="17" height="164"/><text class="t" transform="translate(1219.5 1236) rotate(-90)">Réunion DA Mancy</text></g>
<g id="k9"><rect class="c" x="1228" y="1166" width="16" height="141"/><text class="t" transform="translate(1236 1236.5) rotate(-90)">ACS DA Mancy</text></g>
<g id="k10"><rect class="c" x="1254" y="1154" width="39" height="158"/><text class="t" transform="translate(1273.5 1233) rotate(-90)"><tspan x="0" y="-10">ACC DA</tspan><tspan x="0" y="10">Valdoie-Dannemarie</tspan></text></g>
<g id="k11"><rect class="r" x="1309" y="1148" width="38" height="180"/><text class="t" transform="translate(1328 1238) rotate(-90)">Travail collectif</text></g>
</g>
<g id="l1"><rect class="g" x="1765" y="1148" width="16" height="164"/><text class="t" transform="translate(1773 1230) rotate(-90)">Réunion DA Poligny</text></g>
<g id="l2"><rect class="c" x="1797" y="1154" width="17" height="140"/><text class="t" transform="translate(1805.5 1224) rotate(-90)">ACS DA Poligny</text></g>

<g id="container-labels">
<text class="lb" x="1116" y="290" style="font-size:15.5px">Suivi des élèves / outils de suivi</text>
<text class="lb" x="1525" y="284" text-anchor="middle">Entretiens (impliquant des questions</text>
<text class="lb" x="1525" y="305" text-anchor="middle">d'orientation)</text>
<text class="lb" x="1374" y="566">TP cours</text>
<text class="lb" x="1380" y="617">Vie scolaire</text>
<text class="lb" x="1374" y="685">Fiche activité / stage</text>
<text class="lb" x="1246" y="870" text-anchor="middle">AP 2nde et 1er</text>
<text class="lb" x="1277" y="945">Stages 2nde</text>
<text class="lb" x="1162" y="1113">ActionPro</text>
<text class="lb" x="816" y="1305" text-anchor="middle">Travail ordinaire</text>
<text class="lb" x="1204" y="1350" text-anchor="middle">Délégation</text>
</g>
</svg>
